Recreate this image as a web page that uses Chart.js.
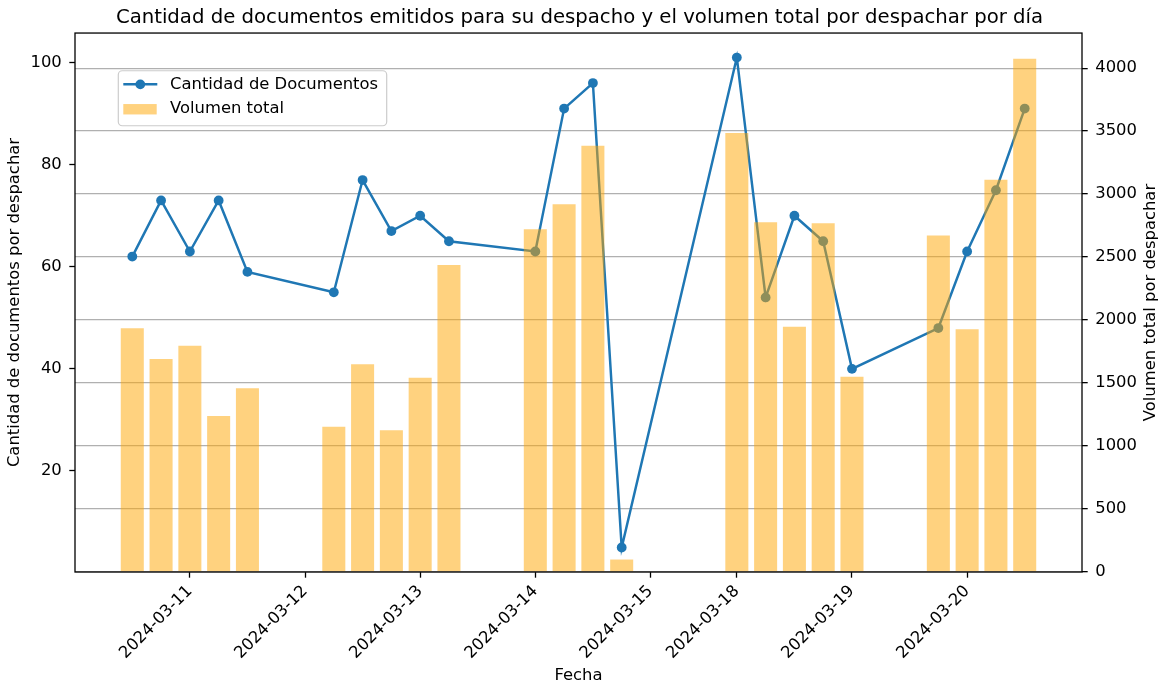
<!DOCTYPE html>
<html><head><meta charset="utf-8">
<script src="https://cdn.jsdelivr.net/npm/chart.js@4.4.1/dist/chart.umd.min.js"></script>
<style>html,body{margin:0;padding:0;background:#fff}canvas{display:block}</style>
</head><body>
<canvas id="c" width="1159" height="687"></canvas>
<script>
// ---- data ----
const slots = [0,1,2,3,4,7,8,9,10,11,14,15,16,17,21,22,23,24,25,28,29,30,31];
const documentCounts = [62,73,63,73,59,55,77,67,70,65,63,91,96,5,101,54,70,65,40,48,63,75,91];
const totalVolumes = [1935,1691,1797,1238,1458,1153,1649,1126,1542,2438,2722,2920,3384,99,3485,2777,1948,2769,1550,2671,1927,3114,4075];
const dateTickSlots = [2,6,10,14,18,21,25,29];
const dateTickLabels = ['2024-03-11','2024-03-12','2024-03-13','2024-03-14','2024-03-15','2024-03-18','2024-03-19','2024-03-20'];
const countTicks = [20,40,60,80,100];
const volumeTicks = [0,500,1000,1500,2000,2500,3000,3500,4000];
const seriesNames = ['Cantidad de Documentos','Volumen total'];
const rightAxisTitle = 'Volumen total por despachar';

// ---- styling ----
const FONT = 'DejaVu Sans';
const TICK_FONT = {family: FONT, size: 16.4};
const BLUE = '#1f77b4';
const ORANGE = 'rgba(255,165,0,0.5)';
const TICK_LEN = 5.7;

// matplotlib-like autoscale
const xLo = Math.min(...slots) - 0.4, xHi = Math.max(...slots) + 0.4, xm = 0.05 * (xHi - xLo);
const cLo = Math.min(...documentCounts), cHi = Math.max(...documentCounts), cm = 0.05 * (cHi - cLo);
const vHi = Math.max(...totalVolumes) * 1.05;

const lineData = slots.map((s, i) => ({x: s, y: documentCounts[i]}));
const barData = slots.map((s, i) => ({x: s, y: totalVolumes[i]}));

const setTicks = arr => scale => { scale.ticks = arr.map(v => ({value: v})); };

const framePlugin = {
  id: 'frame',
  afterDraw(chart) {
    const {ctx, chartArea: a} = chart;
    ctx.save();
    ctx.strokeStyle = '#000';
    ctx.lineWidth = 1.3;
    ctx.strokeRect(a.left, a.top, a.right - a.left, a.bottom - a.top);
    // right axis title, read bottom-to-top like matplotlib
    const s = chart.scales.y2;
    ctx.translate(s.right - 8.2, (s.top + s.bottom) / 2);
    ctx.rotate(-Math.PI / 2);
    ctx.fillStyle = '#000';
    ctx.font = '16.4px "' + FONT + '"';
    ctx.textAlign = 'center';
    ctx.textBaseline = 'middle';
    ctx.fillText(rightAxisTitle, 0, 0);
    ctx.restore();
  }
};

const legendPlugin = {
  id: 'innerLegend',
  afterDraw(chart) {
    const {ctx, chartArea: a} = chart;
    const x0 = a.left + 43.3, y0 = a.top + 37.7, w = 268.4, h = 55;
    ctx.save();
    ctx.beginPath();
    ctx.roundRect(x0, y0, w, h, 4);
    ctx.fillStyle = 'rgba(255,255,255,0.8)';
    ctx.fill();
    ctx.strokeStyle = '#cccccc';
    ctx.lineWidth = 1.2;
    ctx.stroke();
    const ly = y0 + 13.6;
    ctx.strokeStyle = BLUE;
    ctx.lineWidth = 2.46;
    ctx.beginPath();
    ctx.moveTo(x0 + 5, ly); ctx.lineTo(x0 + 39, ly);
    ctx.stroke();
    ctx.fillStyle = BLUE;
    ctx.beginPath();
    ctx.arc(x0 + 22, ly, 4.9, 0, Math.PI * 2);
    ctx.fill();
    const by = y0 + 38.5;
    ctx.fillStyle = ORANGE;
    ctx.fillRect(x0 + 5, by - 5.2, 33.4, 10.4);
    ctx.fillStyle = '#000';
    ctx.font = '16.4px "' + FONT + '"';
    ctx.textBaseline = 'middle';
    ctx.textAlign = 'left';
    ctx.fillText(chart.data.datasets[0].label, x0 + 51.7, ly);
    ctx.fillText(chart.data.datasets[1].label, x0 + 51.7, by);
    ctx.restore();
  }
};

new Chart(document.getElementById('c'), {
  type: 'bar',
  data: {
    datasets: [
      {
        type: 'line', label: seriesNames[0], data: lineData, yAxisID: 'y', xAxisID: 'x',
        borderColor: BLUE, backgroundColor: BLUE, borderWidth: 2.46,
        pointRadius: 4.9, pointBorderWidth: 0, pointBackgroundColor: BLUE,
        tension: 0, order: 1
      },
      {
        type: 'bar', label: seriesNames[1], data: barData, yAxisID: 'y2', xAxisID: 'x',
        backgroundColor: ORANGE, borderWidth: 0,
        barPercentage: 0.8, categoryPercentage: 1.0, order: 0
      }
    ]
  },
  options: {
    responsive: false,
    animation: false,
    layout: {padding: 0},
    plugins: {
      legend: {display: false},
      tooltip: {enabled: false},
      title: {
        display: true,
        text: 'Cantidad de documentos emitidos para su despacho y el volumen total por despachar por día',
        color: '#000',
        font: {family: FONT, size: 19.7, weight: 'normal', lineHeight: 1.2},
        padding: {top: 5.7, bottom: 3.7}
      }
    },
    scales: {
      x: {
        type: 'linear', position: 'bottom', min: xLo - xm, max: xHi + xm, offset: false,
        afterBuildTicks: setTicks(dateTickSlots),
        afterFit: s => { s.height = 115; },
        border: {display: false},
        grid: {display: true, drawOnChartArea: false, offset: false, tickLength: TICK_LEN, tickColor: '#000', tickWidth: 1.3},
        ticks: {
          autoSkip: false, minRotation: 45, maxRotation: 45, padding: 4, color: '#000', font: TICK_FONT,
          callback: (v, i) => dateTickLabels[i]
        },
        title: {display: true, text: 'Fecha', color: '#000', font: {family: FONT, size: 16.4, lineHeight: 1}, padding: {top: 0, bottom: 2.8}}
      },
      y: {
        type: 'linear', position: 'left', min: cLo - cm, max: cHi + cm,
        afterBuildTicks: setTicks(countTicks),
        afterFit: s => { s.width = 75; },
        border: {display: false},
        grid: {display: true, drawOnChartArea: false, tickLength: TICK_LEN, tickColor: '#000', tickWidth: 1.3},
        ticks: {padding: 7.5, color: '#000', font: TICK_FONT, callback: v => String(v)},
        title: {display: true, text: 'Cantidad de documentos por despachar', color: '#000', font: {family: FONT, size: 16.4, lineHeight: 1}, padding: {top: 6.8, bottom: 0}}
      },
      y2: {
        type: 'linear', position: 'right', min: 0, max: vHi,
        afterBuildTicks: setTicks(volumeTicks),
        afterFit: s => { s.width = 77; },
        border: {display: false},
        grid: {display: true, drawOnChartArea: true, color: '#b0b0b0', lineWidth: 1.3, tickLength: TICK_LEN, tickColor: '#000', tickWidth: 1.3},
        ticks: {padding: 7.5, color: '#000', font: TICK_FONT, callback: v => String(v)},
        title: {display: false}
      }
    }
  },
  plugins: [framePlugin, legendPlugin]
});
</script>
</body></html>
